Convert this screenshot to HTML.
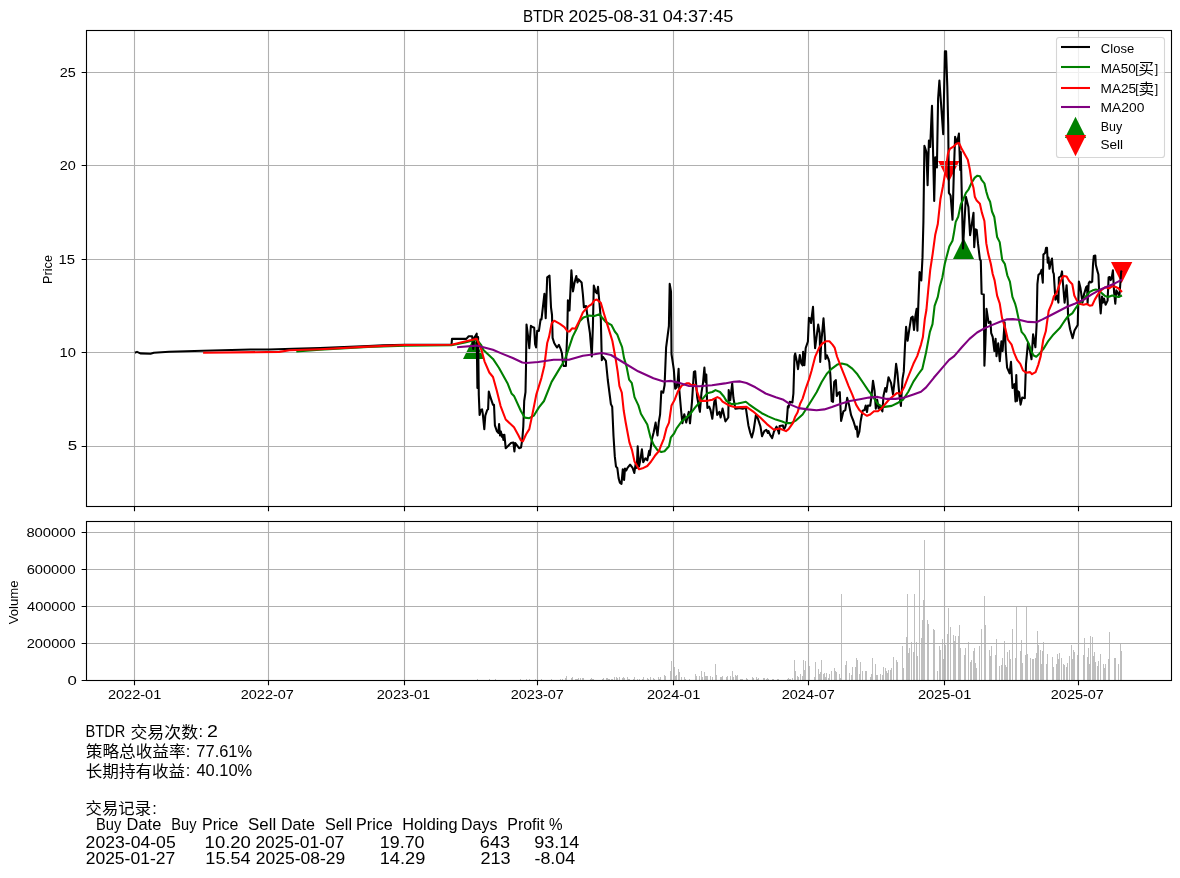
<!DOCTYPE html>
<html lang="zh"><head><meta charset="utf-8"><title>BTDR</title>
<style>html,body{margin:0;padding:0;background:#fff}svg{display:block}text{font-family:"Liberation Sans", "Noto Sans CJK SC", sans-serif;fill:#000}</style>
</head><body>
<svg width="1180" height="878" viewBox="0 0 1180 878">
<rect width="1180" height="878" fill="#fff"/>
<path d="M477 680v-1h1v1zM489 680v-1h1v1zM495 680v-1h1v1zM520 680v-1h1v1zM526 680v-1h1v1zM529 680v-1h1v1zM535 680v-1h1v1zM541 680v-1h1v1zM551 680v-1h1v1zM560 680v-1h1v1zM562 680v-1h1v1zM565 680v-2h1v2zM566 680v-4h1v4zM571 680v-2h1v2zM572 680v-3h1v3zM575 680v-1h1v1zM576 680v-1h1v1zM577 680v-1h1v1zM578 680v-2h1v2zM580 680v-2h1v2zM582 680v-2h1v2zM583 680v-2h1v2zM590 680v-1h1v1zM591 680v-2h1v2zM592 680v-1h1v1zM593 680v-1h1v1zM602 680v-1h1v1zM603 680v-2h1v2zM606 680v-2h1v2zM607 680v-2h1v2zM608 680v-1h1v1zM609 680v-1h1v1zM611 680v-1h1v1zM612 680v-1h1v1zM614 680v-3h1v3zM616 680v-3h1v3zM617 680v-2h1v2zM619 680v-3h1v3zM622 680v-2h1v2zM623 680v-3h1v3zM624 680v-2h1v2zM627 680v-3h1v3zM628 680v-1h1v1zM629 680v-1h1v1zM633 680v-1h1v1zM634 680v-3h1v3zM637 680v-1h1v1zM639 680v-1h1v1zM642 680v-1h1v1zM643 680v-3h1v3zM647 680v-2h1v2zM648 680v-1h1v1zM650 680v-3h1v3zM653 680v-2h1v2zM654 680v-1h1v1zM658 680v-3h1v3zM659 680v-1h1v1zM660 680v-3h1v3zM664 680v-5h1v5zM665 680v-4h1v4zM670 680v-9h1v9zM671 680v-19h1v19zM674 680v-13h1v13zM675 680v-4h1v4zM676 680v-5h1v5zM678 680v-11h1v11zM679 680v-8h1v8zM681 680v-3h1v3zM684 680v-3h1v3zM685 680v-1h1v1zM689 680v-1h1v1zM695 680v-6h1v6zM696 680v-4h1v4zM699 680v-4h1v4zM701 680v-9h1v9zM702 680v-3h1v3zM704 680v-8h1v8zM705 680v-4h1v4zM706 680v-4h1v4zM707 680v-4h1v4zM710 680v-4h1v4zM712 680v-3h1v3zM715 680v-16h1v16zM716 680v-5h1v5zM720 680v-3h1v3zM721 680v-3h1v3zM722 680v-4h1v4zM726 680v-3h1v3zM727 680v-4h1v4zM730 680v-4h1v4zM732 680v-9h1v9zM733 680v-3h1v3zM735 680v-5h1v5zM736 680v-4h1v4zM737 680v-5h1v5zM740 680v-1h1v1zM741 680v-1h1v1zM742 680v-1h1v1zM746 680v-2h1v2zM747 680v-1h1v1zM752 680v-3h1v3zM753 680v-2h1v2zM756 680v-3h1v3zM757 680v-1h1v1zM758 680v-2h1v2zM763 680v-2h1v2zM764 680v-2h1v2zM766 680v-1h1v1zM767 680v-2h1v2zM768 680v-1h1v1zM772 680v-1h1v1zM773 680v-1h1v1zM777 680v-1h1v1zM778 680v-1h1v1zM787 680v-1h1v1zM788 680v-2h1v2zM789 680v-1h1v1zM790 680v-1h1v1zM792 680v-2h1v2zM794 680v-20h1v20zM795 680v-9h1v9zM797 680v-4h1v4zM798 680v-3h1v3zM800 680v-6h1v6zM802 680v-4h1v4zM803 680v-20h1v20zM804 680v-10h1v10zM805 680v-19h1v19zM809 680v-14h1v14zM814 680v-3h1v3zM815 680v-18h1v18zM818 680v-11h1v11zM819 680v-6h1v6zM820 680v-8h1v8zM821 680v-20h1v20zM823 680v-6h1v6zM824 680v-7h1v7zM825 680v-3h1v3zM826 680v-7h1v7zM828 680v-2h1v2zM829 680v-6h1v6zM831 680v-9h1v9zM834 680v-12h1v12zM835 680v-9h1v9zM836 680v-8h1v8zM839 680v-6h1v6zM840 680v-2h1v2zM841 680v-86h1v86zM845 680v-15h1v15zM846 680v-19h1v19zM849 680v-7h1v7zM851 680v-5h1v5zM852 680v-13h1v13zM855 680v-13h1v13zM856 680v-22h1v22zM857 680v-20h1v20zM859 680v-6h1v6zM860 680v-18h1v18zM862 680v-9h1v9zM865 680v-9h1v9zM866 680v-9h1v9zM870 680v-3h1v3zM871 680v-6h1v6zM872 680v-22h1v22zM875 680v-16h1v16zM876 680v-5h1v5zM877 680v-5h1v5zM880 680v-6h1v6zM882 680v-5h1v5zM883 680v-13h1v13zM885 680v-12h1v12zM886 680v-9h1v9zM887 680v-7h1v7zM888 680v-10h1v10zM890 680v-10h1v10zM891 680v-12h1v12zM893 680v-23h1v23zM896 680v-20h1v20zM897 680v-18h1v18zM902 680v-34h1v34zM903 680v-12h1v12zM906 680v-43h1v43zM907 680v-86h1v86zM908 680v-27h1v27zM909 680v-32h1v32zM911 680v-38h1v38zM913 680v-28h1v28zM914 680v-86h1v86zM916 680v-38h1v38zM917 680v-24h1v24zM919 680v-110h1v110zM921 680v-42h1v42zM922 680v-60h1v60zM923 680v-80h1v80zM924 680v-140h1v140zM927 680v-60h1v60zM928 680v-56h1v56zM933 680v-51h1v51zM934 680v-50h1v50zM937 680v-9h1v9zM939 680v-34h1v34zM940 680v-30h1v30zM942 680v-41h1v41zM943 680v-21h1v21zM944 680v-30h1v30zM945 680v-35h1v35zM947 680v-46h1v46zM948 680v-72h1v72zM950 680v-53h1v53zM953 680v-45h1v45zM954 680v-39h1v39zM955 680v-44h1v44zM958 680v-44h1v44zM959 680v-55h1v55zM960 680v-32h1v32zM964 680v-25h1v25zM965 680v-32h1v32zM968 680v-38h1v38zM970 680v-18h1v18zM971 680v-20h1v20zM973 680v-29h1v29zM974 680v-32h1v32zM975 680v-17h1v17zM976 680v-12h1v12zM979 680v-34h1v34zM981 680v-51h1v51zM984 680v-84h1v84zM985 680v-55h1v55zM989 680v-30h1v30zM990 680v-24h1v24zM991 680v-34h1v34zM995 680v-25h1v25zM996 680v-41h1v41zM999 680v-14h1v14zM1001 680v-15h1v15zM1002 680v-22h1v22zM1004 680v-39h1v39zM1005 680v-15h1v15zM1006 680v-13h1v13zM1007 680v-28h1v28zM1009 680v-30h1v30zM1010 680v-21h1v21zM1012 680v-51h1v51zM1015 680v-22h1v22zM1016 680v-73h1v73zM1020 680v-29h1v29zM1021 680v-40h1v40zM1022 680v-17h1v17zM1025 680v-25h1v25zM1026 680v-73h1v73zM1027 680v-26h1v26zM1030 680v-22h1v22zM1032 680v-21h1v21zM1033 680v-21h1v21zM1035 680v-22h1v22zM1036 680v-27h1v27zM1037 680v-49h1v49zM1038 680v-35h1v35zM1040 680v-30h1v30zM1041 680v-16h1v16zM1042 680v-29h1v29zM1043 680v-38h1v38zM1046 680v-16h1v16zM1047 680v-26h1v26zM1052 680v-23h1v23zM1053 680v-13h1v13zM1056 680v-16h1v16zM1057 680v-26h1v26zM1058 680v-21h1v21zM1059 680v-27h1v27zM1061 680v-22h1v22zM1063 680v-16h1v16zM1064 680v-15h1v15zM1066 680v-13h1v13zM1067 680v-17h1v17zM1069 680v-24h1v24zM1071 680v-35h1v35zM1072 680v-21h1v21zM1073 680v-30h1v30zM1074 680v-28h1v28zM1077 680v-25h1v25zM1083 680v-25h1v25zM1084 680v-42h1v42zM1087 680v-23h1v23zM1088 680v-32h1v32zM1089 680v-16h1v16zM1090 680v-44h1v44zM1092 680v-43h1v43zM1093 680v-24h1v24zM1094 680v-28h1v28zM1095 680v-18h1v18zM1097 680v-14h1v14zM1098 680v-19h1v19zM1100 680v-26h1v26zM1103 680v-16h1v16zM1104 680v-12h1v12zM1105 680v-16h1v16zM1108 680v-21h1v21zM1109 680v-48h1v48zM1114 680v-22h1v22zM1115 680v-22h1v22zM1118 680v-16h1v16zM1120 680v-36h1v36zM1121 680v-29h1v29z" fill="#bfbfbf" shape-rendering="crispEdges"/>
<path d="M473.67 337.71L463.02 358.91L484.32 358.91Z" fill="#008000"/>
<path d="M963.53 238.01L952.88 259.21L974.18 259.21Z" fill="#008000"/>
<path d="M948.75 182.16L938.10 160.96L959.40 160.96Z" fill="#ff0000"/>
<path d="M1121.64 283.27L1110.99 262.07L1132.29 262.07Z" fill="#ff0000"/>
<path d="M134.50 30.50V506.50M268.50 30.50V506.50M404.50 30.50V506.50M537.50 30.50V506.50M673.50 30.50V506.50M808.50 30.50V506.50M944.50 30.50V506.50M1078.50 30.50V506.50M86.50 446.50H1171.50M86.50 352.50H1171.50M86.50 259.50H1171.50M86.50 165.50H1171.50M86.50 72.50H1171.50" stroke="#b0b0b0" stroke-width="1.11" fill="none"/>
<path d="M134.50 521.50V680.50M268.50 521.50V680.50M404.50 521.50V680.50M537.50 521.50V680.50M673.50 521.50V680.50M808.50 521.50V680.50M944.50 521.50V680.50M1078.50 521.50V680.50M86.50 680.50H1171.50M86.50 643.50H1171.50M86.50 606.50H1171.50M86.50 569.50H1171.50M86.50 532.50H1171.50" stroke="#b0b0b0" stroke-width="1.11" fill="none"/>
<path d="M134.9 352.7L137.0 351.9L140.3 353.4L150.5 353.7L153.9 352.7L169.0 351.7L203.0 350.8L250.5 349.5L269.0 349.5L292.9 348.8L320.0 348.0L368.0 346.0L383.0 345.2L405.0 344.8L451.5 344.8L452.0 338.9L466.3 338.9L468.7 336.3L472.2 336.3L473.2 349.0L474.2 338.0L476.7 333.7L477.4 388.0L478.1 337.0L478.8 395.0L479.6 415.0L480.8 410.0L482.1 409.3L482.8 413.8L484.3 429.1L485.3 415.7L487.2 410.0L488.1 409.3L488.8 391.5L490.4 397.2L493.0 404.8L494.0 404.8L494.9 425.3L496.8 431.0L498.3 432.9L499.1 424.0L500.0 435.5L500.9 431.6L501.9 436.7L502.6 434.8L503.4 439.9L504.4 434.8L505.7 448.2L508.3 445.7L510.8 443.1L513.4 442.5L514.4 451.4L515.3 443.1L519.1 448.2L521.0 447.6L522.3 439.3L523.3 426.5L524.2 401.0L525.5 392.1L526.0 367.0L526.5 324.5L528.1 336.6L529.3 348.1L530.9 325.8L532.5 327.0L534.2 327.7L535.1 344.3L536.1 347.5L537.2 330.9L538.9 330.9L540.6 319.4L541.5 319.4L544.4 293.9L545.7 318.1L547.2 277.3L549.5 275.7L551.0 307.3L552.0 315.0L552.6 337.9L554.2 343.0L556.1 346.2L557.1 347.5L558.9 344.9L560.6 348.8L561.9 353.2L563.1 364.7L563.8 366.0L565.9 366.0L567.3 331.5L567.9 300.3L569.5 310.5L571.4 270.3L573.0 291.4L574.6 282.4L576.3 276.0L577.5 282.4L578.4 279.2L581.6 282.4L582.9 294.5L583.9 307.3L586.1 306.0L588.0 320.0L589.9 332.8L591.8 356.4L592.9 326.4L593.8 285.6L595.7 292.0L597.0 293.3L598.0 286.9L599.5 303.5L600.8 318.8L601.8 360.2L603.1 357.0L605.9 360.9L607.8 380.0L610.9 404.1L612.2 406.7L613.5 436.0L614.8 456.4L616.0 466.6L617.3 467.9L618.6 478.1L619.9 482.6L621.5 483.9L622.8 469.2L624.1 480.0L625.0 468.5L626.2 470.5L627.5 467.9L630.1 464.7L632.6 467.9L634.3 473.0L635.6 464.1L636.8 467.9L637.7 446.2L639.0 466.6L640.3 460.3L641.9 449.4L643.2 462.2L645.4 458.3L647.3 460.3L649.2 450.7L649.8 455.2L651.8 439.8L653.7 432.2L655.6 422.6L657.5 435.4L658.8 422.0L660.1 414.3L661.3 391.4L663.2 392.7L664.6 385.0L666.1 347.7L668.9 326.0L669.7 283.9L671.0 291.6L671.5 354.1L673.8 369.4L675.2 388.8L676.6 387.5L677.8 380.0L678.6 368.7L679.3 390.0L681.1 410.5L682.4 423.3L684.3 414.3L686.2 422.6L688.8 411.8L690.0 423.3L692.0 401.6L693.9 371.9L695.2 371.3L696.6 390.0L697.3 397.8L699.9 411.8L701.5 392.7L703.0 383.0L704.4 367.5L705.4 382.0L706.3 374.5L707.0 400.0L707.4 408.0L709.2 406.7L710.5 410.0L712.3 418.8L714.3 401.6L715.5 399.0L717.2 415.0L719.4 411.8L720.6 417.5L722.6 408.6L725.4 421.4L728.3 417.5L728.7 390.1L730.2 400.3L732.2 383.4L733.4 397.8L735.3 408.6L738.8 408.1L742.7 408.8L745.8 407.5L748.4 425.4L750.3 433.0L751.8 437.5L753.5 431.1L756.0 414.5L758.0 419.0L760.5 426.6L762.0 436.2L764.3 431.1L766.3 429.8L767.9 433.0L768.5 431.1L770.1 434.9L772.2 438.1L773.9 431.7L776.5 426.6L777.7 429.2L779.0 433.6L779.6 426.0L782.8 425.4L784.1 429.2L785.4 426.6L786.7 421.5L787.9 406.2L788.6 407.5L789.8 401.8L792.4 402.4L793.4 393.5L794.5 356.0L795.2 353.5L796.9 361.6L798.0 369.2L799.8 355.0L801.3 363.5L802.6 365.5L803.1 351.8L804.4 365.2L805.7 348.0L807.9 341.5L808.9 317.9L810.5 318.4L811.0 323.0L813.0 306.8L814.1 331.2L815.1 348.1L818.2 324.6L819.7 333.3L820.2 362.0L821.2 343.5L823.5 318.4L824.8 337.4L825.5 358.9L826.9 355.3L828.4 358.9L829.3 362.0L830.4 375.6L831.7 401.1L833.0 401.8L834.2 382.0L835.8 380.1L836.8 396.0L838.6 392.8L839.8 392.2L841.1 420.9L843.4 411.3L845.3 410.1L847.2 397.9L849.2 405.6L851.1 415.2L853.6 421.5L855.9 429.2L856.8 426.6L857.7 436.8L859.4 431.7L860.6 421.5L862.6 410.7L864.5 410.1L865.7 405.6L867.0 412.0L867.9 405.6L870.2 405.6L871.5 396.0L873.0 380.7L874.6 391.0L875.8 408.6L877.2 399.8L878.6 408.5L880.4 406.2L882.4 411.5L883.5 395.8L885.2 388.0L886.3 391.8L888.5 377.2L891.0 382.9L893.0 394.4L894.5 381.6L896.1 363.8L897.4 372.7L899.3 394.4L900.9 405.9L902.5 379.1L903.8 371.4L905.1 343.4L906.1 326.8L907.6 340.8L909.5 328.1L911.1 317.9L912.7 316.6L914.0 330.0L915.3 316.6L916.6 308.9L917.4 330.6L918.6 297.0L919.6 272.1L921.3 280.4L922.5 257.4L923.4 222.0L924.4 145.7L926.4 152.1L927.6 185.3L928.9 140.6L930.2 147.0L931.5 116.4L932.0 105.7L934.2 201.0L935.3 157.2L936.9 167.4L938.1 98.5L939.4 80.6L943.2 134.2L944.9 51.4L946.1 51.4L947.3 86.2L948.2 125.0L948.9 192.9L950.6 195.5L952.5 219.8L953.8 173.8L955.1 136.8L957.0 143.2L958.9 133.6L960.2 170.0L960.8 152.1L963.0 248.5L964.6 219.1L965.9 196.7L968.4 206.9L970.1 235.1L971.6 225.5L973.5 212.8L974.2 247.2L975.5 229.3L976.7 230.0L978.0 243.4L979.9 259.3L980.8 260.6L981.6 293.8L983.8 294.4L984.4 365.7L985.4 342.1L986.5 308.9L988.6 322.9L990.5 321.7L991.2 333.2L992.7 337.0L994.4 351.0L995.6 338.9L996.5 356.1L998.2 343.4L999.8 361.2L1001.4 341.4L1002.6 351.0L1004.6 322.3L1005.8 351.0L1007.1 367.6L1009.6 373.3L1011.0 361.9L1012.5 388.0L1014.4 384.2L1015.5 401.4L1016.3 375.0L1017.1 400.8L1017.8 391.2L1019.0 392.0L1020.6 404.6L1022.2 397.6L1024.8 398.2L1026.0 363.8L1028.0 342.7L1029.9 350.4L1031.5 359.3L1033.1 334.4L1035.4 347.2L1036.6 325.0L1037.4 284.2L1038.4 275.0L1040.5 272.9L1041.5 269.8L1042.8 282.7L1043.4 254.5L1045.1 252.9L1046.1 247.8L1047.0 247.8L1047.7 262.7L1048.5 257.5L1049.5 268.8L1050.7 262.7L1052.0 258.6L1053.0 271.9L1053.8 273.9L1055.4 299.6L1056.9 295.5L1058.4 302.6L1058.9 277.5L1061.0 276.0L1062.0 271.4L1063.0 284.2L1064.6 302.6L1066.6 285.2L1067.7 301.6L1068.1 317.9L1070.1 329.3L1072.6 338.3L1074.5 330.6L1077.7 324.9L1078.9 281.6L1080.5 288.3L1082.5 302.6L1084.0 294.4L1086.1 287.3L1087.1 286.2L1087.6 303.1L1088.7 283.2L1089.7 281.6L1090.7 282.5L1092.2 281.6L1093.0 264.7L1093.8 256.0L1095.3 255.5L1095.8 264.7L1097.4 270.9L1098.4 274.5L1099.4 296.5L1100.7 313.4L1102.0 296.5L1103.0 302.6L1104.0 298.5L1105.6 304.7L1107.6 300.6L1108.6 277.5L1109.7 277.0L1110.7 280.1L1111.7 278.0L1112.9 270.4L1114.1 292.4L1115.3 303.7L1116.3 290.3L1117.9 293.4L1119.4 296.5L1120.2 285.2L1121.2 271.4L1121.8 272.3" fill="none" stroke="#000000" stroke-width="2.08" stroke-linejoin="round" stroke-linecap="butt"/>
<path d="M296.3 351.5L320.0 349.8L368.0 347.0L405.0 345.6L451.5 345.2L465.0 342.5L476.7 339.5L481.0 344.8L483.4 350.0L493.0 358.9L498.9 367.8L503.2 375.5L507.5 383.2L511.5 393.4L514.0 395.9L521.0 411.2L524.8 417.6L529.3 418.2L533.8 415.7L538.9 407.4L544.0 401.0L551.6 381.9L559.3 369.1L564.4 360.8L567.6 351.9L572.7 336.6L576.5 329.0L579.7 321.3L583.5 317.5L589.3 315.6L594.4 316.0L599.5 314.3L602.0 317.5L605.9 322.0L611.6 325.2L614.8 331.5L617.3 334.7L619.9 341.7L622.1 347.1L624.0 357.9L626.6 366.8L629.1 379.6L631.7 382.8L632.6 387.0L634.5 397.1L638.4 405.4L640.9 413.7L647.3 424.5L650.5 437.3L653.7 444.9L657.5 450.1L661.3 452.0L664.5 451.3L669.0 446.2L670.9 437.3L674.1 433.5L676.6 428.4L681.7 421.4L689.4 415.0L695.8 406.7L700.9 400.9L707.2 393.3L712.3 392.0L715.5 390.1L720.0 392.0L723.8 396.5L726.4 400.9L731.5 404.1L737.9 403.5L742.7 402.4L745.8 401.8L749.0 404.3L755.4 408.8L761.8 413.2L768.2 416.4L775.8 419.6L782.2 421.5L786.0 423.1L791.1 423.1L796.2 420.3L802.6 414.5L807.1 407.5L811.5 400.5L816.6 392.2L821.7 382.0L826.8 373.7L831.9 368.6L837.3 364.6L841.7 363.5L847.2 364.8L852.3 368.6L857.4 374.3L862.6 382.0L867.7 389.6L872.8 396.5L877.7 403.9L882.8 407.1L891.7 405.9L898.1 402.7L903.2 399.5L908.3 391.8L913.4 381.6L918.5 374.0L922.3 368.9L926.1 352.3L929.9 331.9L932.5 324.2L934.6 305.9L937.8 296.9L939.7 286.7L942.3 277.8L944.8 263.8L946.8 256.1L949.3 246.6L952.5 240.8L953.8 233.8L955.7 221.9L958.2 216.8L960.8 204.4L963.3 199.3L965.9 192.9L968.4 189.7L971.6 182.7L974.8 177.6L977.4 175.7L979.9 176.3L981.8 180.2L984.4 183.3L986.3 191.6L988.2 198.0L990.1 201.8L992.0 211.5L994.3 217.0L997.1 237.0L999.7 242.1L1002.2 259.9L1004.8 263.8L1007.3 275.3L1009.9 281.6L1012.4 296.9L1015.0 303.3L1016.3 308.0L1018.4 317.9L1021.6 331.9L1024.8 335.7L1028.6 343.4L1031.8 352.3L1033.7 355.5L1036.3 356.8L1039.4 353.6L1043.3 349.1L1048.4 340.8L1053.5 334.4L1059.8 328.1L1062.5 324.0L1065.1 320.1L1068.2 316.0L1072.3 313.4L1075.9 307.8L1078.9 303.7L1082.5 300.6L1086.6 295.5L1089.7 291.9L1092.8 290.3L1095.8 289.5L1098.9 290.3L1102.0 293.4L1105.1 296.0L1108.1 297.0L1112.2 295.5L1115.3 296.3L1118.4 297.0L1122.0 295.5" fill="none" stroke="#008000" stroke-width="2.08" stroke-linejoin="round" stroke-linecap="butt"/>
<path d="M203.1 352.7L279.3 351.9L289.5 350.2L320.0 349.2L368.0 346.6L405.0 345.0L451.5 344.8L465.0 341.5L476.8 338.8L481.5 350.0L484.5 361.3L489.3 372.5L493.0 377.0L496.8 390.8L500.6 406.1L505.7 419.5L514.0 427.2L518.5 435.5L521.0 440.6L522.9 441.2L526.1 434.2L529.3 429.1L532.5 413.8L536.3 394.6L541.4 378.1L544.3 366.0L547.2 343.0L549.1 336.6L551.7 323.2L554.2 320.7L559.9 323.9L564.4 327.1L567.6 331.5L569.5 331.5L572.1 328.3L575.3 328.7L579.1 321.3L582.9 312.4L588.0 306.7L591.8 304.1L594.4 300.3L596.9 299.6L600.8 302.8L604.0 313.7L607.1 323.9L610.3 334.1L612.4 341.0L615.7 359.2L617.7 371.9L619.4 386.0L621.8 392.7L623.7 410.5L625.6 422.0L629.4 442.4L632.0 450.1L634.5 461.5L639.0 469.2L643.5 467.9L647.3 466.0L651.1 461.5L654.9 455.8L658.8 451.3L661.3 444.9L663.9 438.6L666.4 428.4L669.0 422.6L671.5 405.4L674.7 399.7L677.9 391.4L681.7 385.6L686.5 383.4L689.0 383.2L691.5 385.4L694.8 384.7L695.8 385.6L697.0 391.4L700.2 400.9L706.0 400.9L712.3 399.7L717.4 397.1L720.0 398.4L722.6 401.6L728.9 405.4L735.3 407.3L746.5 406.9L752.9 411.3L760.5 417.7L766.9 424.1L773.9 429.8L779.6 428.5L786.0 431.1L788.6 429.2L793.0 422.8L795.0 417.1L797.5 412.6L800.1 403.7L802.6 398.6L805.8 388.4L809.0 379.4L811.5 371.0L815.1 356.9L819.2 347.6L822.3 343.5L825.9 341.3L829.4 341.3L832.5 344.6L834.6 347.6L837.0 356.5L840.9 366.7L844.7 376.2L848.5 385.8L852.3 394.7L856.2 404.9L859.4 410.1L862.6 413.2L867.0 415.8L870.2 414.5L874.0 411.3L877.9 411.3L881.5 408.4L889.1 399.5L896.8 393.1L900.6 393.8L904.4 386.7L908.3 376.5L913.4 363.8L917.2 356.1L921.0 344.6L922.9 337.0L924.8 319.1L926.4 310.0L928.3 289.3L930.2 270.2L932.7 253.6L935.3 234.4L937.8 224.0L940.4 199.3L942.9 186.5L945.5 171.2L948.0 153.4L949.9 148.9L953.8 146.4L956.3 143.8L958.9 142.9L961.4 148.3L964.6 154.0L967.8 159.7L969.7 168.7L971.6 181.4L973.5 187.8L974.8 196.7L976.7 200.6L979.9 203.8L981.8 212.4L984.4 221.0L986.3 243.4L988.2 253.6L990.8 263.8L992.7 274.0L994.6 280.4L997.1 295.7L999.7 303.3L1002.0 317.9L1005.2 328.1L1007.8 339.5L1011.6 344.6L1013.9 352.3L1017.1 359.9L1020.3 363.8L1022.9 370.2L1026.0 372.7L1029.9 372.1L1032.0 374.2L1035.6 372.1L1038.2 365.1L1040.7 356.1L1043.3 339.5L1045.8 331.3L1046.8 324.0L1048.7 310.8L1051.8 303.7L1053.8 296.5L1056.4 293.4L1058.9 286.2L1062.0 278.0L1063.6 276.0L1066.6 276.5L1069.2 281.1L1072.3 284.2L1074.3 295.5L1076.9 300.6L1079.4 303.7L1083.5 304.7L1086.6 303.9L1089.7 305.7L1092.2 305.2L1094.8 299.6L1097.9 294.4L1101.0 290.3L1105.1 287.3L1109.2 288.3L1112.2 286.2L1115.3 286.8L1118.4 288.3L1122.0 291.9" fill="none" stroke="#ff0000" stroke-width="2.08" stroke-linejoin="round" stroke-linecap="butt"/>
<path d="M457.1 347.3L476.7 345.6L489.1 348.8L492.9 349.8L501.9 353.6L512.8 358.0L522.3 362.5L526.1 363.0L538.3 362.0L553.6 359.8L568.9 359.8L582.9 355.7L594.4 354.2L602.0 353.0L611.0 355.0L622.6 362.0L638.1 371.3L653.4 378.3L663.6 381.5L671.2 380.9L678.9 382.8L689.1 386.0L699.3 386.2L712.0 385.3L724.8 383.4L733.7 381.7L740.1 381.4L746.5 383.0L755.4 387.3L765.6 393.5L775.8 397.3L783.5 399.8L791.1 404.9L798.8 408.1L807.7 409.4L816.6 410.3L824.3 409.4L831.9 406.9L840.9 403.7L849.8 401.1L860.0 399.2L868.9 397.6L877.7 396.9L886.6 398.9L895.5 398.9L904.4 397.6L913.4 394.4L921.0 391.8L926.1 387.4L933.8 377.8L941.4 368.9L949.1 359.9L954.2 356.1L961.8 347.2L969.5 338.9L977.1 332.5L984.8 328.1L992.4 324.9L1000.1 321.7L1006.5 319.4L1012.9 319.1L1020.0 320.0L1028.2 321.9L1036.4 322.3L1042.5 319.4L1050.7 315.2L1058.9 311.0L1067.1 306.8L1075.3 303.5L1083.5 299.8L1091.7 294.4L1099.9 289.8L1108.1 286.2L1115.3 283.2L1122.0 279.6" fill="none" stroke="#800080" stroke-width="2.08" stroke-linejoin="round" stroke-linecap="butt"/>
<rect x="86.50" y="30.50" width="1085.00" height="476.00" fill="none" stroke="#000" stroke-width="1.11"/>
<rect x="86.50" y="521.50" width="1085.00" height="159.00" fill="none" stroke="#000" stroke-width="1.11"/>
<path d="M134.50 506.50v4.86M134.50 680.50v4.86M268.50 506.50v4.86M268.50 680.50v4.86M404.50 506.50v4.86M404.50 680.50v4.86M537.50 506.50v4.86M537.50 680.50v4.86M673.50 506.50v4.86M673.50 680.50v4.86M808.50 506.50v4.86M808.50 680.50v4.86M944.50 506.50v4.86M944.50 680.50v4.86M1078.50 506.50v4.86M1078.50 680.50v4.86M86.50 446.50h-4.86M86.50 352.50h-4.86M86.50 259.50h-4.86M86.50 165.50h-4.86M86.50 72.50h-4.86M86.50 680.50h-4.86M86.50 643.50h-4.86M86.50 606.50h-4.86M86.50 569.50h-4.86M86.50 532.50h-4.86" stroke="#000" stroke-width="1.11" fill="none"/>
<text transform="translate(52,283.9) rotate(-90)" font-size="12.30" textLength="28.9" lengthAdjust="spacingAndGlyphs">Price</text>
<text transform="translate(17.9,624.3) rotate(-90)" font-size="12.30" textLength="43.8" lengthAdjust="spacingAndGlyphs">Volume</text>
<rect x="1056.5" y="37.5" width="108" height="120" rx="2.8" ry="2.8" fill="#fff" fill-opacity="0.8" stroke="#cccccc" stroke-opacity="0.8" stroke-width="1.11"/>
<path d="M1061 47.0H1090" stroke="#000" stroke-width="2.08" fill="none"/>
<path d="M1061 67.0H1090" stroke="#008000" stroke-width="2.08" fill="none"/>
<path d="M1061 88.0H1090" stroke="#ff0000" stroke-width="2.08" fill="none"/>
<path d="M1061 107.0H1090" stroke="#800080" stroke-width="2.08" fill="none"/>
<path d="M1075.50 116.70L1064.85 137.90L1086.15 137.90Z" fill="#008000"/>
<path d="M1075.50 156.20L1064.85 135.00L1086.15 135.00Z" fill="#ff0000"/>
<text><tspan x="67.65" y="450.00" font-size="12.30" textLength="9.38" lengthAdjust="spacingAndGlyphs">5</tspan></text>
<text><tspan x="59.58" y="357.00" font-size="12.30" textLength="16.44" lengthAdjust="spacingAndGlyphs">10</tspan></text>
<text><tspan x="58.55" y="264.00" font-size="12.30" textLength="16.57" lengthAdjust="spacingAndGlyphs">15</tspan></text>
<text><tspan x="59.80" y="170.00" font-size="12.30" textLength="16.10" lengthAdjust="spacingAndGlyphs">20</tspan></text>
<text><tspan x="59.82" y="76.90" font-size="12.30" textLength="16.07" lengthAdjust="spacingAndGlyphs">25</tspan></text>
<text><tspan x="67.42" y="685.00" font-size="12.30" textLength="9.35" lengthAdjust="spacingAndGlyphs">0</tspan></text>
<text><tspan x="26.74" y="648.10" font-size="12.30" textLength="48.86" lengthAdjust="spacingAndGlyphs">200000</tspan></text>
<text><tspan x="27.04" y="611.10" font-size="12.30" textLength="48.60" lengthAdjust="spacingAndGlyphs">400000</tspan></text>
<text><tspan x="26.65" y="574.10" font-size="12.30" textLength="48.94" lengthAdjust="spacingAndGlyphs">600000</tspan></text>
<text><tspan x="26.40" y="537.20" font-size="12.30" textLength="49.34" lengthAdjust="spacingAndGlyphs">800000</tspan></text>
<text><tspan x="107.92" y="698.70" font-size="12.30" textLength="53.39" lengthAdjust="spacingAndGlyphs">2022-01</tspan></text>
<text><tspan x="240.76" y="698.70" font-size="12.30" textLength="53.17" lengthAdjust="spacingAndGlyphs">2022-07</tspan></text>
<text><tspan x="376.77" y="698.70" font-size="12.30" textLength="53.45" lengthAdjust="spacingAndGlyphs">2023-01</tspan></text>
<text><tspan x="510.76" y="698.70" font-size="12.30" textLength="53.17" lengthAdjust="spacingAndGlyphs">2023-07</tspan></text>
<text><tspan x="646.92" y="698.70" font-size="12.30" textLength="53.39" lengthAdjust="spacingAndGlyphs">2024-01</tspan></text>
<text><tspan x="781.76" y="698.70" font-size="12.30" textLength="53.17" lengthAdjust="spacingAndGlyphs">2024-07</tspan></text>
<text><tspan x="917.92" y="698.70" font-size="12.30" textLength="53.39" lengthAdjust="spacingAndGlyphs">2025-01</tspan></text>
<text><tspan x="1050.80" y="698.70" font-size="12.30" textLength="53.08" lengthAdjust="spacingAndGlyphs">2025-07</tspan></text>
<text><tspan x="523.03" y="22.00" font-size="16.35" textLength="41.21" lengthAdjust="spacingAndGlyphs">BTDR</tspan> <tspan x="568.54" y="22.00" font-size="16.35" textLength="90.01" lengthAdjust="spacingAndGlyphs">2025-08-31</tspan> <tspan x="662.79" y="22.00" font-size="16.35" textLength="70.62" lengthAdjust="spacingAndGlyphs">04:37:45</tspan></text>
<text><tspan x="1100.89" y="52.80" font-size="12.30" textLength="33.28" lengthAdjust="spacingAndGlyphs">Close</tspan></text>
<text><tspan x="1100.65" y="72.90" font-size="12.30" textLength="35.15" lengthAdjust="spacingAndGlyphs">MA50</tspan><tspan x="1135.23" y="72.90" font-size="12.30">[</tspan><tspan x="1138.36" y="74.20" font-size="14.80" textLength="15.78" lengthAdjust="spacingAndGlyphs">买</tspan><tspan x="1154.65" y="72.90" font-size="12.30">]</tspan></text>
<text><tspan x="1100.64" y="92.80" font-size="12.30" textLength="35.50" lengthAdjust="spacingAndGlyphs">MA25</tspan><tspan x="1135.23" y="92.80" font-size="12.30">[</tspan><tspan x="1138.42" y="94.30" font-size="14.80" textLength="15.68" lengthAdjust="spacingAndGlyphs">卖</tspan><tspan x="1154.65" y="92.80" font-size="12.30">]</tspan></text>
<text><tspan x="1100.62" y="111.90" font-size="12.30" textLength="43.74" lengthAdjust="spacingAndGlyphs">MA200</tspan></text>
<text><tspan x="1100.67" y="130.60" font-size="12.30" textLength="21.46" lengthAdjust="spacingAndGlyphs">Buy</tspan></text>
<text><tspan x="1100.46" y="148.60" font-size="12.30" textLength="22.67" lengthAdjust="spacingAndGlyphs">Sell</tspan></text>
<text><tspan x="85.62" y="736.80" font-size="16.35" textLength="39.67" lengthAdjust="spacingAndGlyphs">BTDR</tspan> <tspan x="130.44" y="737.50" font-size="15.60" textLength="67.63" lengthAdjust="spacingAndGlyphs">交易次数</tspan><tspan x="198.44" y="736.80" font-size="16.35">:</tspan> <tspan x="206.92" y="736.80" font-size="16.35" textLength="10.91" lengthAdjust="spacingAndGlyphs">2</tspan></text>
<text><tspan x="85.77" y="757.30" font-size="15.60" textLength="99.88" lengthAdjust="spacingAndGlyphs">策略总收益率</tspan><tspan x="185.79" y="756.60" font-size="16.35">:</tspan> <tspan x="196.37" y="756.60" font-size="16.35" textLength="55.76" lengthAdjust="spacingAndGlyphs">77.61%</tspan></text>
<text><tspan x="85.79" y="777.00" font-size="15.60" textLength="99.39" lengthAdjust="spacingAndGlyphs">长期持有收益</tspan><tspan x="185.79" y="776.30" font-size="16.35">:</tspan> <tspan x="196.42" y="776.30" font-size="16.35" textLength="55.75" lengthAdjust="spacingAndGlyphs">40.10%</tspan></text>
<text><tspan x="85.61" y="814.20" font-size="15.60" textLength="65.44" lengthAdjust="spacingAndGlyphs">交易记录</tspan><tspan x="152.16" y="813.50" font-size="16.35">:</tspan></text>
<text><tspan x="96.01" y="829.80" font-size="16.35" textLength="25.29" lengthAdjust="spacingAndGlyphs">Buy</tspan> <tspan x="126.60" y="829.80" font-size="16.35" textLength="34.72" lengthAdjust="spacingAndGlyphs">Date</tspan> <tspan x="171.36" y="829.80" font-size="16.35" textLength="25.18" lengthAdjust="spacingAndGlyphs">Buy</tspan> <tspan x="202.10" y="829.80" font-size="16.35" textLength="36.36" lengthAdjust="spacingAndGlyphs">Price</tspan> <tspan x="248.10" y="829.80" font-size="16.35" textLength="28.13" lengthAdjust="spacingAndGlyphs">Sell</tspan> <tspan x="280.89" y="829.80" font-size="16.35" textLength="33.96" lengthAdjust="spacingAndGlyphs">Date</tspan> <tspan x="324.99" y="829.80" font-size="16.35" textLength="27.05" lengthAdjust="spacingAndGlyphs">Sell</tspan> <tspan x="356.06" y="829.80" font-size="16.35" textLength="36.72" lengthAdjust="spacingAndGlyphs">Price</tspan> <tspan x="402.16" y="829.80" font-size="16.35" textLength="55.33" lengthAdjust="spacingAndGlyphs">Holding</tspan> <tspan x="461.09" y="829.80" font-size="16.35" textLength="36.36" lengthAdjust="spacingAndGlyphs">Days</tspan> <tspan x="507.31" y="829.80" font-size="16.35" textLength="37.20" lengthAdjust="spacingAndGlyphs">Profit</tspan> <tspan x="549.11" y="829.80" font-size="16.35" textLength="13.55" lengthAdjust="spacingAndGlyphs">%</tspan></text>
<text><tspan x="85.63" y="847.90" font-size="16.35" textLength="90.08" lengthAdjust="spacingAndGlyphs">2023-04-05</tspan> <tspan x="204.63" y="847.90" font-size="16.35" textLength="46.23" lengthAdjust="spacingAndGlyphs">10.20</tspan> <tspan x="255.40" y="847.90" font-size="16.35" textLength="88.87" lengthAdjust="spacingAndGlyphs">2025-01-07</tspan> <tspan x="379.84" y="847.90" font-size="16.35" textLength="44.74" lengthAdjust="spacingAndGlyphs">19.70</tspan> <tspan x="479.82" y="847.90" font-size="16.35" textLength="30.22" lengthAdjust="spacingAndGlyphs">643</tspan> <tspan x="534.24" y="847.90" font-size="16.35" textLength="45.02" lengthAdjust="spacingAndGlyphs">93.14</tspan></text>
<text><tspan x="85.65" y="864.40" font-size="16.35" textLength="89.62" lengthAdjust="spacingAndGlyphs">2025-01-27</tspan> <tspan x="205.31" y="864.40" font-size="16.35" textLength="45.42" lengthAdjust="spacingAndGlyphs">15.54</tspan> <tspan x="255.76" y="864.40" font-size="16.35" textLength="89.43" lengthAdjust="spacingAndGlyphs">2025-08-29</tspan> <tspan x="379.73" y="864.40" font-size="16.35" textLength="45.62" lengthAdjust="spacingAndGlyphs">14.29</tspan> <tspan x="480.40" y="864.40" font-size="16.35" textLength="30.20" lengthAdjust="spacingAndGlyphs">213</tspan> <tspan x="534.47" y="864.40" font-size="16.35" textLength="40.67" lengthAdjust="spacingAndGlyphs">-8.04</tspan></text>
</svg></body></html>
